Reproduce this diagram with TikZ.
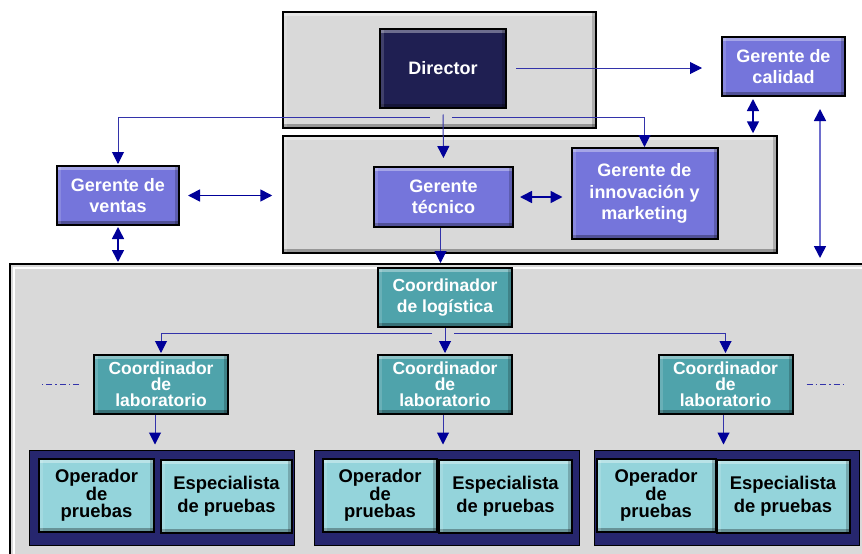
\documentclass[tikz,border=0pt]{standalone}
\usepackage{fontspec}
\setmainfont{Liberation Sans}
\usetikzlibrary{arrows.meta}
\definecolor{panelgris}{RGB}{217,217,217}
\definecolor{azuldir}{RGB}{31,31,82}
\definecolor{lila}{RGB}{117,117,219}
\definecolor{verdeazul}{RGB}{79,163,171}
\definecolor{marino}{RGB}{38,38,110}
\definecolor{celeste}{RGB}{148,212,219}
\definecolor{flechaazul}{RGB}{0,0,153}
\definecolor{lineaazul}{RGB}{51,51,170}
\definecolor{lineaclara}{RGB}{110,110,205}
\tikzset{
  bisel/.style={path picture={
    \fill[white,opacity=.35] (path picture bounding box.north west) rectangle ([yshift=-4pt]path picture bounding box.north east);
    \fill[black,opacity=.3] (path picture bounding box.south west) rectangle ([yshift=4pt]path picture bounding box.south east);
    \fill[white,opacity=.15] (path picture bounding box.north west) rectangle ([xshift=4pt]path picture bounding box.south west);
    \fill[black,opacity=.2] (path picture bounding box.north east) rectangle ([xshift=-4pt]path picture bounding box.south east);}},
  panel/.style={draw=black,line width=1.5pt,fill=panelgris,inner sep=0pt,bisel},
  caja/.style={draw=black,line width=2pt,inner sep=0pt,align=center,bisel,
    font=\bfseries\fontsize{18}{21.5}\selectfont},
  director/.style={caja,fill=azuldir,text=white,minimum width=126pt,minimum height=79pt},
  gerente/.style={caja,fill=lila,text=white},
  coord/.style={caja,fill=verdeazul,text=white,minimum width=134pt,minimum height=59pt,
    font=\bfseries\fontsize{17.5}{21}\selectfont},
  puesto/.style={caja,fill=celeste,text=black,minimum height=73pt},
  grupo/.style={draw=black,line width=1pt,fill=marino,minimum width=265pt,minimum height=95pt},
  linea/.style={draw=lineaazul,line width=1pt},
  doble/.style={draw=flechaazul,line width=1.6pt,<->},
  rayapunto/.style={draw=lineaazul,line width=1pt,dash pattern=on 6pt off 3pt on 1.5pt off 3pt}
}
\begin{document}
\begin{tikzpicture}[x=1pt,y=-1pt,>={Triangle[width=12pt,length=12pt,color=flechaazul]}]
\useasboundingbox (0,0) rectangle (862,554);
% paneles de fondo
\node[panel,minimum width=313pt,minimum height=116pt] (paneltop) at (439.5,70) {};
\node[panel,minimum width=494pt,minimum height=117pt] (panelmid) at (530,194.5) {};
\fill[panelgris] (10,264) rectangle (862,554);
\draw[white,line width=2pt] (13.5,554) -- (13.5,267.5) -- (862,267.5);
\draw[black,line width=1.5pt] (10,554) -- (10,264) -- (862,264);
\coordinate (panelinf) at (10,264);
% direccion y gerencias
\node[director] (director) at (443,68) {Director};
\node[gerente,minimum width=123pt,minimum height=59pt] (calidad) at (783.5,66.5) {Gerente de\\calidad};
\node[gerente,minimum width=122pt,minimum height=59pt] (ventas) at (118,195.5) {Gerente de\\ventas};
\node[gerente,minimum width=139pt,minimum height=60pt] (tecnico) at (443.5,197) {Gerente\\t\'ecnico};
\node[gerente,minimum width=146pt,minimum height=91pt] (innov) at (644.5,193.5) {Gerente de\\innovaci\'on y\\marketing};
% coordinaciones
\node[coord] (logistica) at (445,297.5) {Coordinador\\de log\'istica};
\node[coord,font=\bfseries\fontsize{17.5}{16}\selectfont] (lab1) at (161,384.5) {Coordinador\\de\\laboratorio};
\node[coord,font=\bfseries\fontsize{17.5}{16}\selectfont] (lab2) at (445,384.5) {Coordinador\\de\\laboratorio};
\node[coord,font=\bfseries\fontsize{17.5}{16}\selectfont] (lab3) at (725.5,384.5) {Coordinador\\de\\laboratorio};
% grupos de pruebas
\node[grupo] (grp1) at (161.5,497.5) {};
\node[grupo] (grp2) at (446.5,497.5) {};
\node[grupo] (grp3) at (726.5,497.5) {};
\node[puesto,minimum width=115pt,font=\bfseries\fontsize{18.4}{17}\selectfont] (op1) at (96.5,495.5) {Operador\\de\\pruebas};
\node[puesto,minimum width=131pt,font=\bfseries\fontsize{18.4}{23}\selectfont] (esp1) at (226.5,496.5) {Especialista\\de pruebas};
\node[puesto,minimum width=114pt,font=\bfseries\fontsize{18.4}{17}\selectfont] (op2) at (380,495.5) {Operador\\de\\pruebas};
\node[puesto,minimum width=133pt,font=\bfseries\fontsize{18.4}{23}\selectfont] (esp2) at (505.5,496.5) {Especialista\\de pruebas};
\node[puesto,minimum width=119pt,font=\bfseries\fontsize{18.4}{17}\selectfont] (op3) at (656,495.5) {Operador\\de\\pruebas};
\node[puesto,minimum width=133pt,font=\bfseries\fontsize{18.4}{23}\selectfont] (esp3) at (783,496.5) {Especialista\\de pruebas};
% conexiones
\coordinate (cruce) at (441,117);
\coordinate (reparto) at (443,333);
\draw[linea,->,shorten <=9pt,shorten >=19pt] (director.east) -- (director.east -| calidad.west);
\draw[linea,->,shorten <=6pt,shorten >=8pt] (director.south) -- (tecnico.north);
\draw[linea,->,shorten >=1pt] ([xshift=-11pt]cruce) -| (ventas.north);
\draw[linea,->] ([xshift=11pt]cruce) -| (innov.north);
\draw[linea,->,shorten >=1pt] ([xshift=-3pt]tecnico.south) -- ([xshift=-3pt]tecnico.south |- panelinf);
\draw[linea,->,shorten >=1pt] (logistica.south) -- (lab2.north);
\draw[linea,->,shorten >=1pt] ([xshift=-11pt]reparto) -| (lab1.north);
\draw[linea,->,shorten >=1pt] ([xshift=11pt]reparto) -| (lab3.north);
\draw[linea,->,shorten >=5pt] ([xshift=-6pt]lab1.south) -- ([xshift=-6pt]lab1.south |- grp1.north);
\draw[linea,->,shorten >=5pt] ([xshift=-2pt]lab2.south) -- ([xshift=-2pt]lab2.south |- grp2.north);
\draw[linea,->,shorten >=5pt] ([xshift=-2pt]lab3.south) -- ([xshift=-2pt]lab3.south |- grp3.north);
\draw[doble,shorten <=8pt,shorten >=10pt] (ventas.east) -- (ventas.east -| panelmid.west);
\draw[doble,shorten <=1pt,shorten >=2pt] (ventas.south) -- (ventas.south |- panelinf);
\draw[doble,shorten <=6pt,shorten >=8pt] (tecnico.east) -- (innov.west |- tecnico.east);
\draw[doble,shorten <=2pt,shorten >=2pt] ([xshift=-30.5pt]calidad.south) -- ([xshift=-30.5pt]calidad.south |- panelmid.north);
\draw[doble,draw=lineaclara,shorten <=12pt,shorten >=6pt] ([xshift=36.5pt]calidad.south) -- ([xshift=36.5pt]calidad.south |- panelinf);
\draw[rayapunto] ([xshift=-14pt]lab1.west) -- ([xshift=-52pt]lab1.west);
\draw[rayapunto] ([xshift=13pt]lab3.east) -- ([xshift=50pt]lab3.east);
\end{tikzpicture}
\end{document}
